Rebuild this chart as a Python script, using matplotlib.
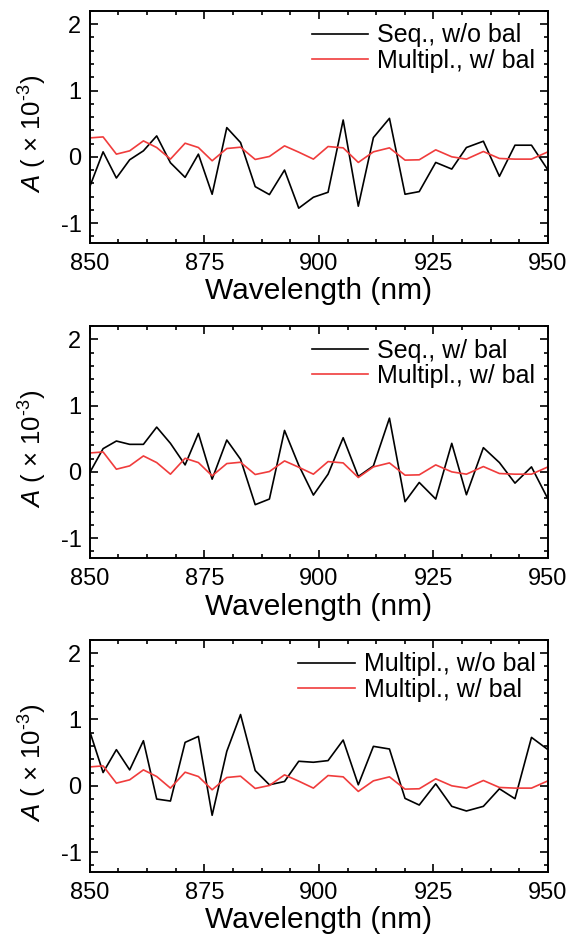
import matplotlib
matplotlib.use('Agg')
import matplotlib.pyplot as plt
from matplotlib.ticker import MultipleLocator

plt.rcParams['font.family'] = ['Liberation Sans', 'DejaVu Sans']
plt.rcParams['mathtext.fontset'] = 'custom'
plt.rcParams['mathtext.rm'] = 'Liberation Sans'
plt.rcParams['mathtext.it'] = 'Liberation Sans:italic'
plt.rcParams['axes.unicode_minus'] = False

# wavelength samples (nm)
wl = [850.0, 852.9, 855.8, 858.7, 861.7, 864.6, 867.6, 870.8, 873.7, 876.7, 879.9,
      882.9, 886.1, 889.2, 892.5, 895.6, 898.8, 902.0, 905.3, 908.6, 911.9, 915.4,
      918.8, 921.9, 925.5, 929.0, 932.2, 935.9, 939.4, 942.8, 946.4, 950.0]

# Multipl., w/ bal (same in every panel)
mult_bal = [0.285, 0.30, 0.04, 0.09, 0.24, 0.14, -0.035, 0.205, 0.14, -0.06, 0.125,
            0.145, -0.04, 0.005, 0.165, 0.07, -0.035, 0.155, 0.135, -0.085, 0.075, 0.135,
            -0.05, -0.045, 0.105, 0.0, -0.035, 0.08, -0.025, -0.035, -0.035, 0.075]

seq_nobal = [-0.45, 0.075, -0.32, -0.045, 0.09, 0.315, -0.09, -0.31, 0.04, -0.565, 0.44,
             0.215, -0.45, -0.57, -0.2, -0.775, -0.61, -0.535, 0.555, -0.745, 0.29, 0.58,
             -0.565, -0.525, -0.085, -0.185, 0.14, 0.235, -0.295, 0.175, 0.175, -0.2]

seq_bal = [-0.01, 0.35, 0.465, 0.415, 0.415, 0.675, 0.43, 0.105, 0.58, -0.11, 0.48,
           0.19, -0.495, -0.41, 0.625, 0.1, -0.35, -0.035, 0.515, -0.07, 0.09, 0.81,
           -0.45, -0.16, -0.41, 0.43, -0.345, 0.365, 0.14, -0.17, 0.075, -0.41]

mult_nobal = [0.82, 0.2, 0.545, 0.24, 0.68, -0.2, -0.23, 0.655, 0.745, -0.445, 0.52,
              1.075, 0.23, 0.015, 0.065, 0.37, 0.355, 0.38, 0.69, 0.015, 0.595, 0.555,
              -0.19, -0.29, 0.03, -0.31, -0.38, -0.31, -0.045, -0.195, 0.73, 0.545]

black_series = [seq_nobal, seq_bal, mult_nobal]
black_labels = ['Seq., w/o bal', 'Seq., w/ bal', 'Multipl., w/o bal']
red_label = 'Multipl., w/ bal'

xticks = [850, 875, 900, 925, 950]
yticks = [-1, 0, 1, 2]

fig = plt.figure(figsize=(5.72, 9.36), dpi=100)
bottoms = [0.7404, 0.4038, 0.0684]

for i in range(3):
    ax = fig.add_axes([0.157, bottoms[i], 0.801, 0.2479])
    ax.plot(wl, black_series[i], color='black', lw=1.2, label=black_labels[i])
    ax.plot(wl, mult_bal, color='#f03c3c', lw=1.2, label=red_label)
    ax.set_xlim(850, 950)
    ax.set_ylim(-1.3, 2.2)
    ax.set_xticks(xticks)
    ax.set_yticks(yticks)
    ax.xaxis.set_minor_locator(MultipleLocator(6.25))
    ax.yaxis.set_minor_locator(MultipleLocator(0.2))
    ax.tick_params(which='both', direction='in', top=True, right=True, width=1.2,
                   labelsize=17)
    ax.tick_params(axis='x', pad=7)
    ax.tick_params(axis='y', pad=6)
    ax.tick_params(which='major', length=6)
    ax.tick_params(which='minor', length=3)
    for s in ax.spines.values():
        s.set_linewidth(1.4)
    ax.set_xlabel('Wavelength (nm)', fontsize=21.5, labelpad=2)
    ax.set_ylabel(r'$A$ ( $\times$ 10$^{\text{-}3}$)', fontsize=18.5)
    ax.yaxis.set_label_coords(-0.09, 0.47)
    ax.legend(loc='upper right', frameon=False, fontsize=18, handlelength=2.25,
              handletextpad=0.36, labelspacing=0.05, borderaxespad=0.15,
              borderpad=0.35)

fig.savefig('out.png', dpi=100)
